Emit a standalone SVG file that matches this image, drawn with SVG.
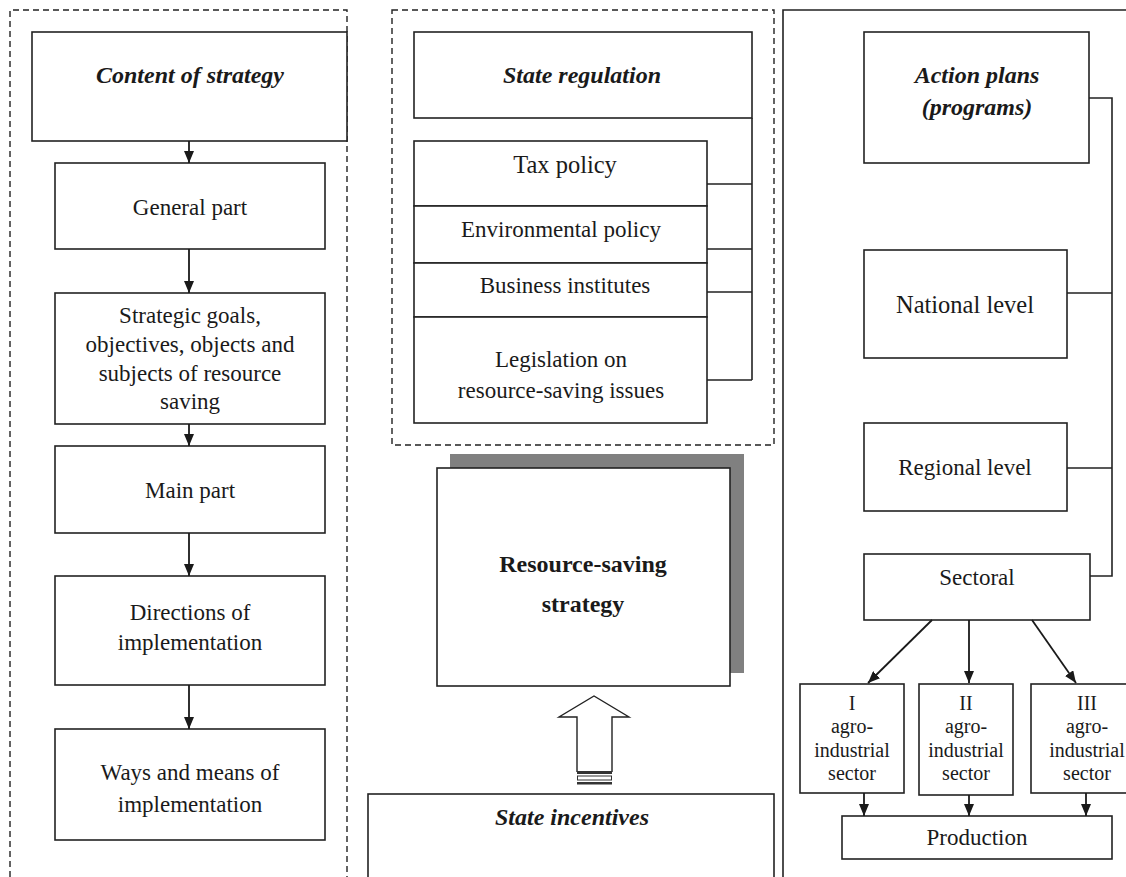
<svg xmlns="http://www.w3.org/2000/svg" width="1126" height="877" viewBox="0 0 1126 877">
<defs>
<marker id="ah" viewBox="0 0 12 10" refX="12" refY="5" markerWidth="12" markerHeight="10" markerUnits="userSpaceOnUse" orient="auto">
<path d="M0,0 L12,5 L0,10 z" fill="#1a1a1a"/>
</marker>
<style>
.box{fill:#fff;stroke:#222;stroke-width:1.6}
.dash{fill:none;stroke:#222;stroke-width:1.4;stroke-dasharray:6 4}
.ln{fill:none;stroke:#222;stroke-width:1.6}
.arr{fill:none;stroke:#1a1a1a;stroke-width:1.8;marker-end:url(#ah)}
text{font-family:"Liberation Serif","Times New Roman",serif;fill:#1a1a1a;text-anchor:middle}
.t{font-size:23px}
.L{font-size:24.5px}
.s{font-size:20px}
.bi{font-size:24px;font-weight:bold;font-style:italic}
.b{font-size:24px;font-weight:bold}
</style>
</defs>
<rect width="1126" height="877" fill="#fff"/>

<g id="panels">
<path class="dash" d="M10,877 L10,10 L347,10 L347,877"/>
<rect class="dash" x="392" y="10" width="382" height="435"/>
<path class="ln" d="M783,877 L783,10 L1130,10"/>
</g>

<g id="content-of-strategy"><rect class="box" x="32" y="32" width="315" height="109"/><text class="bi" x="190" y="83">Content of strategy</text></g>
<g id="general-part"><rect class="box" x="55" y="163" width="270" height="86"/><text class="t" x="190" y="215">General part</text></g>
<g id="strategic-goals"><rect class="box" x="55" y="293" width="270" height="131"/>
<text class="t" x="190" y="323">Strategic goals,</text>
<text class="t" x="190" y="352">objectives, objects and</text>
<text class="t" x="190" y="381">subjects of resource</text>
<text class="t" x="190" y="409">saving</text></g>
<g id="main-part"><rect class="box" x="55" y="446" width="270" height="87"/><text class="t" x="190" y="498">Main part</text></g>
<g id="directions"><rect class="box" x="55" y="576" width="270" height="109"/>
<text class="t" x="190" y="620">Directions of</text>
<text class="t" x="190" y="650">implementation</text></g>
<g id="ways-means"><rect class="box" x="55" y="729" width="270" height="111"/>
<text class="t" x="190" y="780">Ways and means of</text>
<text class="t" x="190" y="812">implementation</text></g>

<g id="state-regulation"><rect class="box" x="414" y="32" width="338" height="86"/><text class="bi" x="582" y="83">State regulation</text></g>
<g id="tax-policy"><rect class="box" x="414" y="141" width="293" height="65"/><text class="L" x="565" y="173">Tax policy</text></g>
<g id="environmental-policy"><rect class="box" x="414" y="206" width="293" height="57"/><text class="t" x="561" y="237">Environmental policy</text></g>
<g id="business-institutes"><rect class="box" x="414" y="263" width="293" height="54"/><text class="t" x="565" y="293">Business institutes</text></g>
<g id="legislation"><rect class="box" x="414" y="317" width="293" height="106"/>
<text class="t" x="561" y="367">Legislation on</text>
<text class="t" x="561" y="398">resource-saving issues</text></g>

<g id="resource-saving-strategy">
<rect x="450" y="454" width="294" height="219" fill="#808080"/>
<rect class="box" x="437" y="468" width="293" height="218"/>
<text class="b" x="583" y="572">Resource-saving</text>
<text class="b" x="583" y="612">strategy</text></g>

<g id="state-incentives"><rect class="box" x="368" y="794" width="406" height="100"/><text class="bi" x="572" y="825">State incentives</text></g>

<g id="action-plans"><rect class="box" x="864" y="32" width="225" height="131"/>
<text class="bi" x="977" y="83">Action plans</text>
<text class="bi" x="977" y="115">(programs)</text></g>
<g id="national-level"><rect class="box" x="864" y="250" width="203" height="108"/><text class="L" x="965" y="313">National level</text></g>
<g id="regional-level"><rect class="box" x="864" y="423" width="203" height="88"/><text class="t" x="965" y="475">Regional level</text></g>
<g id="sectoral"><rect class="box" x="864" y="554" width="226" height="66"/><text class="t" x="977" y="585">Sectoral</text></g>
<g id="sector-1"><rect class="box" x="800" y="684" width="104" height="109"/>
<text class="s" x="852" y="710">I</text><text class="s" x="852" y="733">agro-</text><text class="s" x="852" y="757">industrial</text><text class="s" x="852" y="780">sector</text></g>
<g id="sector-2"><rect class="box" x="919" y="684" width="94" height="111"/>
<text class="s" x="966" y="710">II</text><text class="s" x="966" y="733">agro-</text><text class="s" x="966" y="757">industrial</text><text class="s" x="966" y="780">sector</text></g>
<g id="sector-3"><rect class="box" x="1031" y="684" width="112" height="109"/>
<text class="s" x="1087" y="710">III</text><text class="s" x="1087" y="733">agro-</text><text class="s" x="1087" y="757">industrial</text><text class="s" x="1087" y="780">sector</text></g>
<g id="production"><rect class="box" x="842" y="816" width="270" height="43"/><text class="t" x="977" y="845">Production</text></g>

<g id="connectors">
<line class="arr" x1="189" y1="141" x2="189" y2="163"/>
<line class="arr" x1="189" y1="249" x2="189" y2="293"/>
<line class="arr" x1="189" y1="424" x2="189" y2="446"/>
<line class="arr" x1="189" y1="533" x2="189" y2="576"/>
<line class="arr" x1="189" y1="685" x2="189" y2="729"/>

<path class="ln" d="M752,118 L752,380 M707,184 L752,184 M707,249 L752,249 M707,292 L752,292 M707,380 L752,380"/>

<path class="ln" d="M1089,98 L1112,98 L1112,576 L1090,576 M1067,293 L1112,293 M1067,468 L1112,468"/>

<line class="arr" x1="932" y1="620" x2="868" y2="683"/>
<line class="arr" x1="969" y1="620" x2="969" y2="683"/>
<line class="arr" x1="1032" y1="620" x2="1076" y2="683"/>

<line class="arr" x1="864" y1="793" x2="864" y2="816"/>
<line class="arr" x1="969" y1="795" x2="969" y2="816"/>
<line class="arr" x1="1086" y1="793" x2="1086" y2="816"/>

<g id="block-arrow">
<path d="M577,772 L577,717 L559,717 L594,696 L629,717 L612,717 L612,772" fill="#fff" stroke="#222" stroke-width="1.4"/>
<rect x="577" y="771" width="35" height="3" fill="#333"/>
<rect x="577.5" y="776" width="34" height="4" fill="#fff" stroke="#333" stroke-width="1"/>
<rect x="577" y="782" width="35" height="2.5" fill="#333"/>
</g>
</g>
</svg>
